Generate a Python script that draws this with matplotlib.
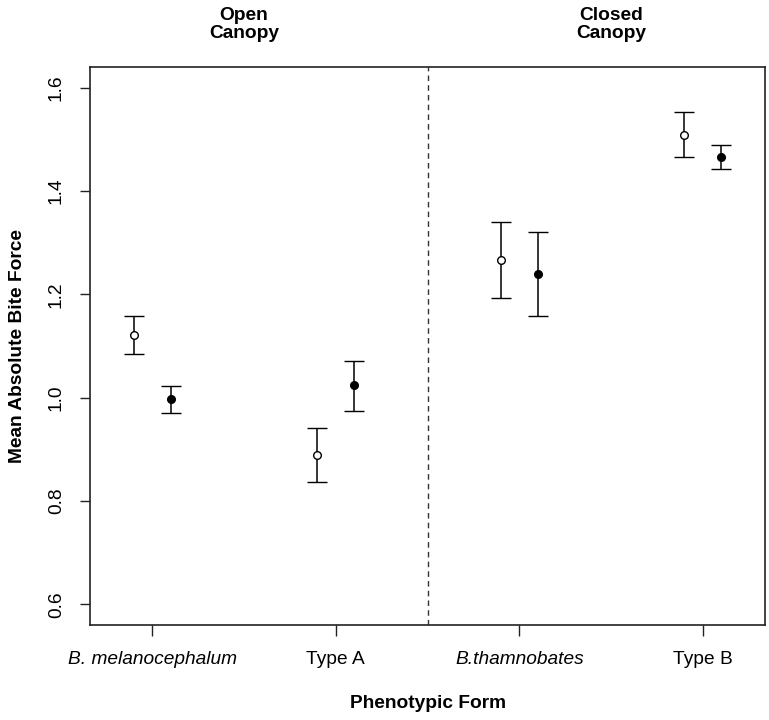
import matplotlib
matplotlib.use("Agg")
import matplotlib.pyplot as plt

plt.rcParams["font.family"] = ["Liberation Sans", "DejaVu Sans"]

# Phenotypic forms (x categories)
forms = ["B. melanocephalum", "Type A", "B.thamnobates", "Type B"]
italic = [True, False, True, False]
habitats = ["Open\nCanopy", "Closed\nCanopy"]

# open-circle series (left of each category)
open_mean = [1.122, 0.889, 1.266, 1.509]
open_lo = [1.084, 0.837, 1.193, 1.465]
open_hi = [1.158, 0.941, 1.340, 1.553]

# filled-circle series (right of each category)
fill_mean = [0.997, 1.025, 1.239, 1.465]
fill_lo = [0.971, 0.975, 1.158, 1.442]
fill_hi = [1.022, 1.070, 1.320, 1.488]

yticks = [0.6, 0.8, 1.0, 1.2, 1.4, 1.6]

fig = plt.figure(figsize=(7.69, 7.2), dpi=100)
ax = fig.add_axes([0.117, 0.132, 0.878, 0.775])

x = list(range(1, len(forms) + 1))
dx = 0.1
FS = 13.8


def draw(xs, mean, lo, hi, face):
    err = [[m - l for m, l in zip(mean, lo)], [h - m for m, h in zip(mean, hi)]]
    ax.errorbar(xs, mean, yerr=err, fmt="o", color="black", ecolor="black",
                mfc=face, mec="black", ms=5.5, mew=1.0, elinewidth=1.1,
                capsize=7.5, capthick=1.1, zorder=3)


draw([v - dx for v in x], open_mean, open_lo, open_hi, "white")
draw([v + dx for v in x], fill_mean, fill_lo, fill_hi, "black")

ax.axvline(2.5, color="#333333", linestyle=(0, (4, 3)), linewidth=1.0)

ax.set_xlim(0.66, 4.34)
ax.set_ylim(0.56, 1.64)
ax.set_xticks(x)
ax.set_xticklabels(forms, fontsize=FS)
for lab, it in zip(ax.get_xticklabels(), italic):
    if it:
        lab.set_style("italic")
ax.set_yticks(yticks)
ax.set_yticklabels([f"{v:.1f}" for v in yticks], fontsize=FS, rotation=90, va="center")
ax.tick_params(axis="x", length=8, width=1.0, pad=11, colors="#222222", labelcolor="black")
ax.tick_params(axis="y", length=7, width=1.0, pad=11, colors="#222222", labelcolor="black")
for s in ax.spines.values():
    s.set_linewidth(1.2)
    s.set_color("#222222")

ax.set_xlabel("Phenotypic Form", fontsize=FS, fontweight="bold", labelpad=19)
ax.set_ylabel("Mean Absolute Bite Force", fontsize=FS, fontweight="bold", labelpad=16)

for cx, txt in zip([1.5, 3.5], habitats):
    ax.text(cx, 1.045, txt, transform=ax.get_xaxis_transform(), ha="center",
            va="bottom", fontsize=FS, fontweight="bold", linespacing=1.1,
            clip_on=False)

fig.savefig("out.png", dpi=100)
